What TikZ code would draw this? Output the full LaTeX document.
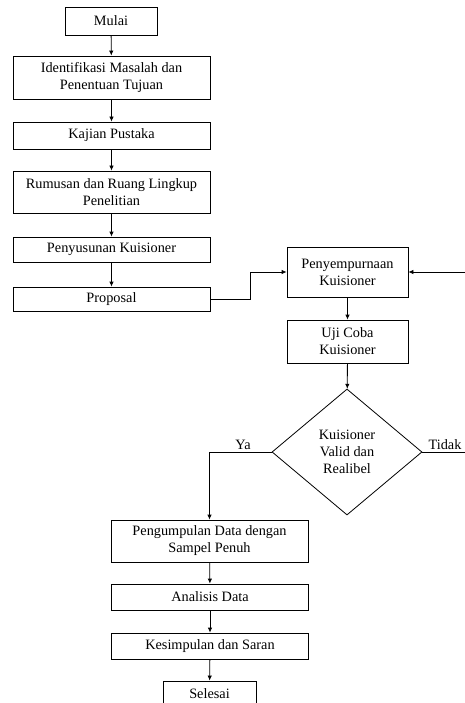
\documentclass[tikz,border=0pt]{standalone}
\usepackage{fontspec}
\setmainfont{Liberation Serif}
\usetikzlibrary{arrows.meta, shapes.geometric}

\begin{document}
\begin{tikzpicture}[x=1pt, y=-1pt,
  box/.style={draw, line width=0.8pt, align=center, inner sep=0pt, font=\fontsize{14.3}{17}\selectfont},
  flow/.style={line width=0.8pt, -{Latex[length=5pt,width=4.5pt]}},
  lbl/.style={font=\fontsize{14.3}{17}\selectfont, anchor=south, inner sep=1pt}]
  \useasboundingbox (0,0) rectangle (465,703);
  \clip (0,0) rectangle (465,703);
  % left column
  \node[box, minimum width=92, minimum height=28] (mulai) at (111,21) {Mulai};
  \node[box, minimum width=197, minimum height=43] (identifikasi) at (111.5,77.5) {Identifikasi Masalah dan\\Penentuan Tujuan};
  \node[box, minimum width=197, minimum height=27] (kajian) at (111.5,135.5) {Kajian Pustaka};
  \node[box, minimum width=197, minimum height=42] (rumusan) at (111.5,192) {Rumusan dan Ruang Lingkup\\Penelitian};
  \node[box, minimum width=197, minimum height=25] (penyusunan) at (111.5,249.5) {Penyusunan Kuisioner};
  \node[box, minimum width=197, minimum height=24] (proposal) at (111.5,299) {Proposal};
  % right column
  \node[box, minimum width=121, minimum height=50] (sempurna) at (347.5,272) {Penyempurnaan\\Kuisioner};
  \node[box, minimum width=121, minimum height=43] (ujicoba) at (347.5,341.5) {Uji Coba\\Kuisioner};
  \node[box, diamond, minimum width=150, minimum height=126] (valid) at (347,452) {Kuisioner\\Valid dan\\Realibel};
  % bottom column
  \node[box, minimum width=197, minimum height=42] (kumpul) at (209.5,541) {Pengumpulan Data dengan\\Sampel Penuh};
  \node[box, minimum width=197, minimum height=26] (analisis) at (210,597) {Analisis Data};
  \node[box, minimum width=197, minimum height=26] (simpulan) at (210,646) {Kesimpulan dan Saran};
  \node[box, minimum width=93, minimum height=26] (selesai) at (209.5,694) {Selesai};
  \coordinate (balik) at (475,452);
  % arrows
  \draw[flow] (mulai) -- (identifikasi);
  \draw[flow] (identifikasi) -- (kajian);
  \draw[flow] (kajian) -- (rumusan);
  \draw[flow] (rumusan) -- (penyusunan);
  \draw[flow] (penyusunan) -- (proposal);
  \draw[flow] (proposal.east) -- ++(40,0) |- (sempurna.west);
  \draw[flow] (sempurna) -- (ujicoba);
  \draw[flow] (ujicoba) -- (valid);
  \draw[flow] (valid.west) -| (kumpul.north);
  \draw[flow] (valid.east) -- (balik) |- (sempurna.east);
  \draw[flow] (kumpul) -- (analisis);
  \draw[flow] (analisis) -- (simpulan);
  \draw[flow] (simpulan) -- (selesai);
  \node[lbl] at (243,451) {Ya};
  \node[lbl] at (445,451) {Tidak};
\end{tikzpicture}
\end{document}
